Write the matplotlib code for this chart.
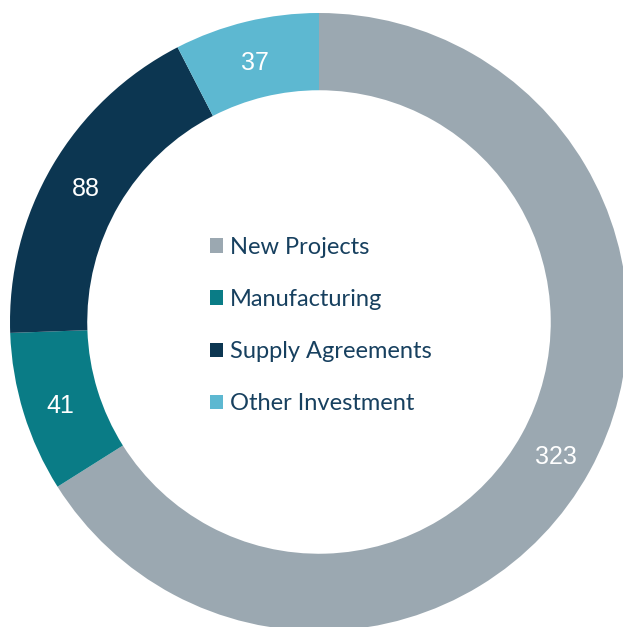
import numpy as np
import matplotlib.pyplot as plt
from matplotlib.transforms import offset_copy

categories = ["New Projects", "Manufacturing", "Supply Agreements", "Other Investment"]
values = [323, 41, 88, 37]
colors = ["#9BA8B1", "#0A7C86", "#0C3651", "#5DB8D1"]

W, H = 623, 627
CX, CY, R = 319, 322, 309  # ring centre and outer radius in pixels

fig = plt.figure(figsize=(W / 100, H / 100), dpi=100)
ax = fig.add_axes([0, 0, 1, 1])

wedges, texts = ax.pie(
    values,
    colors=colors,
    startangle=90,
    counterclock=False,
    radius=1.0,
    wedgeprops=dict(width=0.25, edgecolor="none"),
)

# value labels sit in the middle of the ring
label_tr = offset_copy(ax.transData, fig=fig, x=0, y=-4, units="dots")
total = sum(values)
start = 90.0
for v in values:
    sweep = 360.0 * v / total
    mid = np.deg2rad(start - sweep / 2)
    ax.text(0.875 * np.cos(mid), 0.875 * np.sin(mid), str(v),
            ha="center", va="center", color="white", fontsize=18,
            family="Liberation Sans", transform=label_tr)
    start -= sweep

ax.set_xlim(-CX / R, (W - CX) / R)
ax.set_ylim((CY - H) / R, CY / R)
ax.set_aspect("equal")
ax.axis("off")

leg = ax.legend(
    wedges, categories,
    loc="center",
    bbox_to_anchor=(321 / W, 1 - 325.5 / H),
    bbox_transform=fig.transFigure,
    frameon=False,
    prop=dict(family="Lato", size=17),
    handlelength=0.55, handleheight=0.55,
    handletextpad=0.3, labelspacing=1.32,
)
for t in leg.get_texts():
    t.set_color("#17405F")

fig.savefig("out.png", dpi=100)
